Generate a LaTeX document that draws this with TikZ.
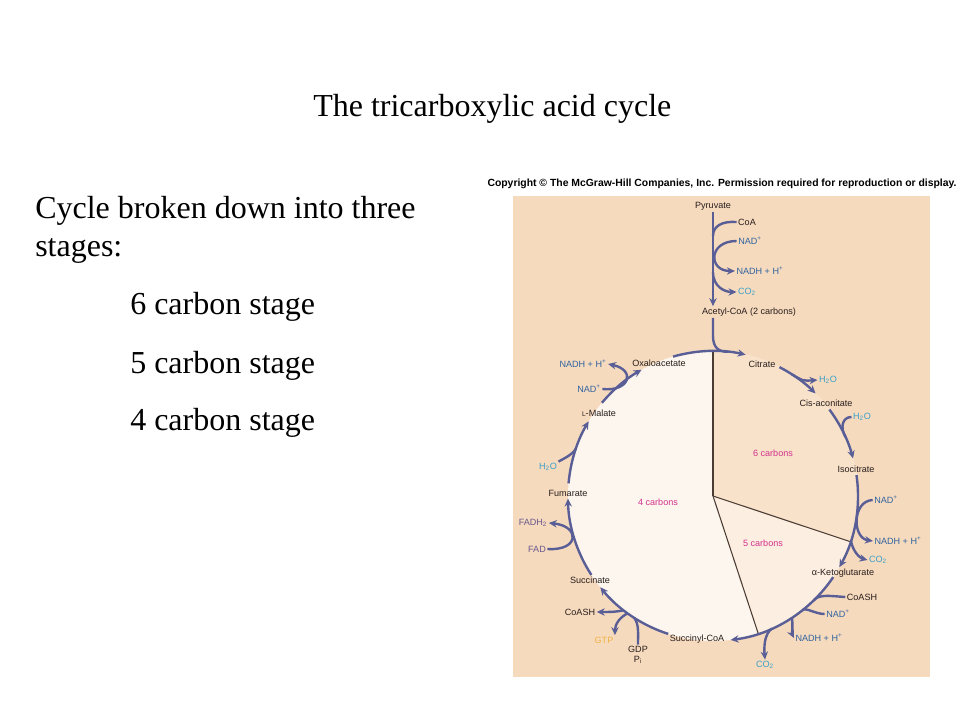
\documentclass[tikz,border=0pt]{standalone}
\usepackage{fontspec}
\setmainfont{Liberation Serif}
\newfontfamily\lblfont{Liberation Sans}
\usetikzlibrary{arrows.meta,calc}

\definecolor{cycc}{RGB}{90,94,150}
\definecolor{lblc}{RGB}{40,30,28}
\definecolor{nadc}{RGB}{48,100,160}
\definecolor{watc}{RGB}{60,160,200}
\definecolor{fadc}{RGB}{105,88,140}
\definecolor{gtpc}{RGB}{240,180,70}
\definecolor{carbc}{RGB}{210,50,140}
\definecolor{bgc}{RGB}{246,218,190}
\definecolor{sixc}{RGB}{248,226,202}
\definecolor{fivec}{RGB}{252,238,224}
\definecolor{fourc}{RGB}{253,246,238}
\definecolor{sepc}{RGB}{75,60,52}

\tikzset{
  slide/.style={font=\fontsize{24}{28}\selectfont, inner sep=0pt},
  met/.style={font=\lblfont\fontsize{6.8}{8}\selectfont, text=lblc, inner sep=1pt},
  nad/.style={met, text=nadc},
  wat/.style={met, text=watc},
  fad/.style={met, text=fadc},
  carb/.style={met, text=carbc},
  cyc/.style={draw=cycc, line width=1.8pt, -{Stealth[length=6pt,width=5.5pt]}},
  feed/.style={draw=cycc, line width=1.8pt},
  sep/.style={draw=sepc, line width=0.8pt}
}

\begin{document}
\begin{tikzpicture}[x=0.75pt,y=-0.75pt]
\def\R{145}
\fill[white] (0,0) rectangle (960,720);
\useasboundingbox (0,0) rectangle (960,720);

% slide text
\node[slide, anchor=base west] (title) at (313,117) {The tricarboxylic acid cycle};
\node[slide, anchor=base west] (intro) at (35,219) {Cycle broken down into three};
\node[slide, anchor=base west] (stages) at (35,257) {stages:};
\node[slide, anchor=base west] (six) at (130,315) {6 carbon stage};
\node[slide, anchor=base west] (five) at (130,373) {5 carbon stage};
\node[slide, anchor=base west] (four) at (130,430) {4 carbon stage};

% figure
\node[font=\lblfont\bfseries\fontsize{7.8}{9}\selectfont, inner sep=0pt] (copy) at (722,184)
  {Copyright \textcopyright{} The McGraw-Hill Companies, Inc. Permission required for reproduction or display.};
\fill[bgc] (513,196) rectangle (930,677);

\coordinate (C) at (713,496);
\fill[fourc] (C) circle[radius=\R];
\fill[sixc] (C) -- ($(C)+(-90:\R)$) arc[start angle=-90, end angle=18.4, radius=\R] -- cycle;
\fill[fivec] (C) -- ($(C)+(18.4:\R)$) arc[start angle=18.4, end angle=71.8, radius=\R] -- cycle;
\draw[sep] (C) -- ($(C)+(-90:\R)$);
\draw[sep] (C) -- ($(C)+(18.4:\R)$);
\draw[sep] (C) -- ($(C)+(71.8:\R)$);

\node[carb] (c6) at (773,453) {6 carbons};
\node[carb] (c5) at (763,543) {5 carbons};
\node[carb] (c4) at (658,502) {4 carbons};

% pyruvate to acetyl-CoA
\node[met] (pyr) at (713,206) {Pyruvate};
\node[met] (coa1) at (747,222) {CoA};
\node[nad] (nad1) at (750,241) {NAD\textsuperscript{+}};
\node[nad] (nadh1) at (760,271) {NADH + H\textsuperscript{+}};
\node[wat] (co21) at (747,292) {CO\textsubscript{2}};
\node[met] (acoa) at (749,312) {Acetyl-CoA (2 carbons)};

\draw[cyc] (pyr.south) -- (pyr.south |- acoa.north);
\coordinate (jcoa) at (713,236);
\coordinate (jco2) at (713,272);
\draw[feed] (coa1.west) .. controls (722,221) and (713,226) .. (jcoa);
\draw[cyc] (nad1.west) .. controls (708,241) and (708,271) .. (nadh1.west);
\draw[cyc] (jco2) .. controls (713,287) and (725,292) .. (co21.west);
\coordinate (jac) at ($(C)+(-84:\R)$);
\draw[feed] (pyr.south |- acoa.south) -- (713,336) .. controls (713,348) and (719,352) .. (jac);

% metabolites on the cycle
\node[met] (oxa) at (659,363) {Oxaloacetate};
\node[met] (cit) at (762,364) {Citrate};
\node[wat] (h2o1) at (828,380) {H\textsubscript{2}O};
\node[met] (cis) at (826,403) {Cis-aconitate};
\node[wat] (h2o2) at (862,417) {H\textsubscript{2}O};
\node[met] (iso) at (856,469) {Isocitrate};
\node[nad] (nad2) at (886,500) {NAD\textsuperscript{+}};
\node[nad] (nadh2) at (898,541) {NADH + H\textsuperscript{+}};
\node[wat] (co22) at (878,560) {CO\textsubscript{2}};
\node[met] (akg) at (843,573) {α-Ketoglutarate};
\node[met] (coash1) at (862,597) {CoASH};
\node[nad] (nad3) at (838,614) {NAD\textsuperscript{+}};
\node[nad] (nadh3) at (819,638) {NADH + H\textsuperscript{+}};
\node[wat] (co23) at (765,665) {CO\textsubscript{2}};
\node[met] (scoa) at (697,639) {Succinyl-CoA};
\node[met, align=center, font=\lblfont\fontsize{6.8}{7.5}\selectfont] (gdp) at (638,655) {GDP\\P\textsubscript{i}};
\node[met, text=gtpc] (gtp) at (604,640) {GTP};
\node[met] (coash2) at (580,612) {CoASH};
\node[met] (succ) at (590,580) {Succinate};
\node[fad] (fad) at (537,549) {FAD};
\node[fad] (fadh) at (533,523) {FADH\textsubscript{2}};
\node[met] (fum) at (568,493) {Fumarate};
\node[wat] (h2o3) at (548,467) {H\textsubscript{2}O};
\node[met] (mal) at (599,413) {{\fontsize{5}{6}\selectfont L}-Malate};
\node[nad] (nad4) at (589,389) {NAD\textsuperscript{+}};
\node[nad] (nadh4) at (583,364) {NADH + H\textsuperscript{+}};

% cycle arrows
\draw[cyc] ($(C)+(-106:\R)$) arc[start angle=-106, end angle=-77, radius=\R];
\draw[cyc] ($(C)+(-62.7:\R)$) arc[start angle=-62.7, end angle=-45, radius=\R];
\draw[cyc] ($(C)+(-36.6:\R)$) arc[start angle=-36.6, end angle=-15, radius=\R];
\draw[cyc] ($(C)+(-8.3:\R)$) arc[start angle=-8.3, end angle=29.4, radius=\R];
\draw[cyc] ($(C)+(34:\R)$) arc[start angle=34, end angle=83, radius=\R];
\draw[cyc] ($(C)+(108:\R)$) arc[start angle=108, end angle=141, radius=\R];
\draw[cyc] ($(C)+(147:\R)$) arc[start angle=147, end angle=179, radius=\R];
\draw[cyc] ($(C)+(185:\R)$) arc[start angle=185, end angle=211, radius=\R];
\draw[cyc] ($(C)+(220:\R)$) arc[start angle=220, end angle=240.5, radius=\R];

% side branches
\coordinate (jb) at ($(C)+(-57:\R)$);
\draw[cyc] (jb) .. controls (803,381) .. (h2o1.west);
\coordinate (jc) at ($(C)+(-24:\R)$);
\draw[feed] (h2o2.west) .. controls (842,417) and (840,428) .. (jc);
\draw[cyc] (nad2.west) .. controls (852,501) and (852,538) .. (nadh2.west);
\coordinate (jd) at ($(C)+(18:\R)$);
\draw[cyc] (jd) .. controls (853,552) and (860,558) .. (co22.west);
\coordinate (je1) at ($(C)+(46:\R)$);
\draw[feed] (coash1.west) .. controls (830,596) and (819,594) .. (je1);
\coordinate (je2) at ($(C)+(52:\R)$);
\draw[feed] (nad3.west) .. controls (815,614) and (806,607) .. (je2);
\coordinate (je3) at ($(C)+(57:\R)$);
\draw[cyc] (je3) .. controls (793,625) and (792,634) .. (nadh3.west);
\coordinate (je4) at ($(C)+(66:\R)$);
\draw[cyc] (je4) .. controls (764,634) and (764,648) .. (co23.north);
\coordinate (jf1) at ($(C)+(123:\R)$);
\draw[feed] (gdp.north) .. controls (638,632) and (639,624) .. (jf1);
\coordinate (jf2) at ($(C)+(126:\R)$);
\draw[cyc] (jf2) .. controls (620,617) and (615,624) .. (gtp.north east);
\coordinate (jf3) at ($(C)+(128:\R)$);
\draw[cyc] (jf3) .. controls (616,612) and (610,612) .. (coash2.east);
\draw[cyc] (fad.east) .. controls (580,551) and (580,526) .. (fadh.east);
\coordinate (jh) at ($(C)+(199:\R)$);
\draw[feed] (h2o3.north east) .. controls (563,459) and (572,455) .. (jh);
\draw[cyc] (nad4.east) .. controls (630,392) and (636,370) .. (nadh4.east);
\end{tikzpicture}
\end{document}
